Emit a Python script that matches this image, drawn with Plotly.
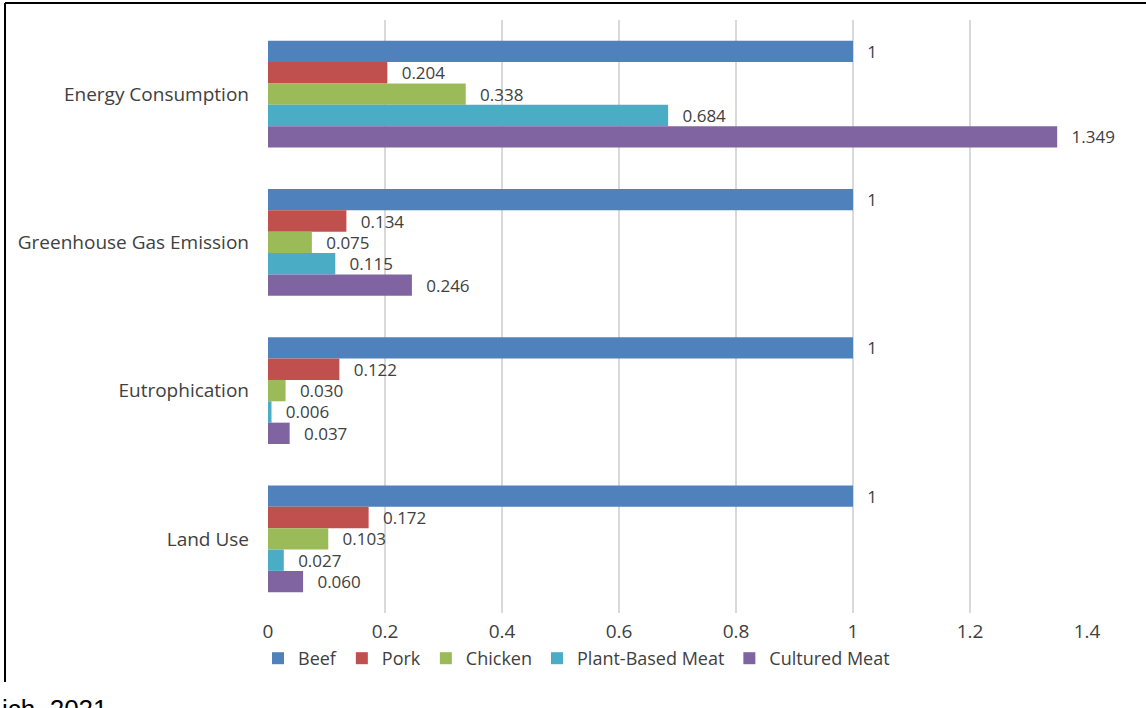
import plotly.graph_objects as go

categories = ["Energy Consumption", "Greenhouse Gas Emission", "Eutrophication", "Land Use"]
series_names = ["Beef", "Pork", "Chicken", "Plant-Based Meat", "Cultured Meat"]
beef = [1, 1, 1, 1]
pork = [0.204, 0.134, 0.122, 0.172]
chicken = [0.338, 0.075, 0.030, 0.103]
plant_based = [0.684, 0.115, 0.006, 0.027]
cultured = [1.349, 0.246, 0.037, 0.060]
colors = ["#4F81BD", "#C0504D", "#9BBB59", "#4BACC6", "#8064A2"]
xticks = [0, 0.2, 0.4, 0.6, 0.8, 1, 1.2, 1.4]

series = [beef, pork, chicken, plant_based, cultured]

def lab(v):
    return "\u2002\u2009" + ("1" if v == 1 else f"{v:.3f}")

FONT = "Open Sans"
TXT = "#404040"
fig = go.Figure()
for name, vals, col in zip(series_names, series, colors):
    fig.add_trace(go.Bar(
        y=categories, x=vals, orientation="h", name=name,
        marker=dict(color=col, line=dict(width=0)),
        text=[lab(v) for v in vals], textposition="outside",
        textfont=dict(family=FONT, size=17, color=TXT),
        constraintext="none",
        cliponaxis=False,
    ))

W, H = 1146, 708
L, R, T, B = 268, 1146 - 1087, 20, 708 - 613
pw, ph = W - L - R, H - T - B

def px(x):
    return (x - L) / pw

def py(y):
    return (H - B - y) / ph

fig.update_layout(
    width=W, height=H,
    margin=dict(l=L, r=R, t=T, b=B),
    paper_bgcolor="white", plot_bgcolor="white",
    barmode="group", bargap=0.28, bargroupgap=0,
    font=dict(family=FONT, color=TXT),
    uniformtext=dict(mode=False),
    xaxis=dict(range=[0, 1.4], tickvals=xticks, showgrid=True,
               gridcolor="#D9D9D9", gridwidth=2, zeroline=False,
               showline=False, ticks="",
               tickfont=dict(family=FONT, size=19, color=TXT),
               ticklabelstandoff=5),
    yaxis=dict(autorange="reversed", showgrid=False, showline=False, ticks="",
               tickfont=dict(family=FONT, size=19, color=TXT),
               ticklabelstandoff=18),
    legend=dict(orientation="h", x=px(258), y=py(640), xanchor="left", yanchor="top",
                font=dict(family=FONT, size=18, color=TXT),
                bgcolor="rgba(0,0,0,0)",
                itemwidth=30, tracegroupgap=0),
    shapes=[
        dict(type="line", xref="paper", yref="paper", x0=px(5), x1=px(1160), y0=py(3), y1=py(3),
             line=dict(color="black", width=2)),
        dict(type="line", xref="paper", yref="paper", x0=px(5), x1=px(5), y0=py(3), y1=py(682),
             line=dict(color="black", width=2)),
    ],
    annotations=[
        dict(text="ich, 2021", xref="paper", yref="paper", x=px(0), y=py(692),
             xanchor="left", yanchor="top", showarrow=False,
             font=dict(family="Liberation Sans", size=26, color="black")),
    ],
)

fig.write_html("out.html")
